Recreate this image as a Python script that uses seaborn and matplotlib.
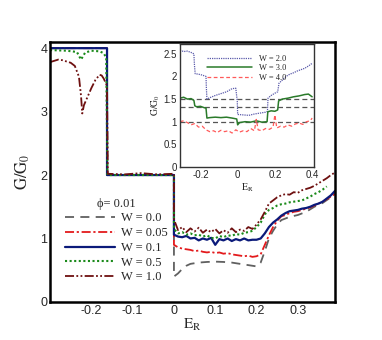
import matplotlib
matplotlib.use('Agg')
import numpy as np
import matplotlib.pyplot as plt
import seaborn as sns
from matplotlib.ticker import MultipleLocator

sns.set_style('white')
plt.rcParams['font.family'] = ['Liberation Sans', 'DejaVu Sans']
plt.rcParams['mathtext.fontset'] = 'stix'

# ---- main panel data (phi = 0.01) ----
e_hi = [0.00, 0.01, 0.02, 0.03, 0.04, 0.05, 0.06, 0.07, 0.08, 0.09,
        0.10, 0.11, 0.12, 0.13, 0.14, 0.15, 0.16, 0.17, 0.18, 0.19,
        0.20, 0.21, 0.22, 0.23, 0.24, 0.25, 0.26, 0.27, 0.28, 0.29,
        0.30, 0.31, 0.32, 0.33, 0.34, 0.35, 0.36, 0.37, 0.38, 0.39]

# W = 0.0
e_w00 = [-0.30, -0.162, -0.162, 0.0, 0.0, 0.01, 0.02, 0.03, 0.04, 0.06, 0.08, 0.10, 0.12,
         0.14, 0.16, 0.18, 0.20, 0.21, 0.22, 0.23, 0.24, 0.25, 0.26, 0.28, 0.30, 0.32,
         0.34, 0.36, 0.38, 0.39]
g_w00 = [4.0, 4.0, 2.0, 2.0, 0.40, 0.45, 0.52, 0.57, 0.60, 0.62, 0.63, 0.635, 0.63,
         0.62, 0.60, 0.58, 0.56, 0.62, 0.80, 1.00, 1.12, 1.22, 1.29, 1.34, 1.37, 1.42,
         1.50, 1.56, 1.65, 1.71]

# W = 0.05
e_w005 = [-0.30, -0.162, -0.162, 0.0] + e_hi
g_w005 = [4.0, 4.0, 2.0, 2.0,
          0.90, 0.86, 0.84, 0.83, 0.82, 0.80, 0.81, 0.79, 0.78, 0.79,
          0.77, 0.78, 0.76, 0.77, 0.75, 0.74, 0.73, 0.72, 0.73, 0.71,
          0.72, 0.75, 0.90, 1.05, 1.18, 1.28, 1.35, 1.37, 1.40, 1.42,
          1.43, 1.45, 1.47, 1.49, 1.52, 1.55, 1.58, 1.62, 1.66, 1.70]

# W = 0.1
e_w01 = [-0.30, -0.162, -0.162, 0.0] + e_hi
g_w01 = [4.0, 4.0, 2.0, 2.0,
         1.06, 1.03, 1.02, 1.04, 1.00, 1.01, 0.97, 1.00, 0.98, 1.01,
         0.90, 0.99, 0.97, 1.00, 0.96, 0.99, 0.97, 1.00, 0.97, 0.98,
         0.98, 1.00, 1.08, 1.18, 1.25, 1.30, 1.36, 1.40, 1.43, 1.44,
         1.45, 1.47, 1.48, 1.50, 1.53, 1.55, 1.58, 1.63, 1.68, 1.75]

# W = 0.5
e_w05 = [-0.30, -0.26, -0.235, -0.225, -0.215, -0.20, -0.18, -0.17, -0.164, -0.161, 0.0] + e_hi[:38]
g_w05 = [3.97, 3.96, 3.94, 3.82, 3.93, 3.96, 3.95, 3.92, 3.85, 2.0, 2.0,
         1.15, 1.08, 1.10, 1.06, 1.08, 1.05, 1.06, 1.03, 1.05, 1.01,
         1.00, 1.04, 1.02, 1.05, 1.04, 1.07, 1.06, 1.09, 1.10, 1.12,
         1.18, 1.25, 1.38, 1.45, 1.48, 1.52, 1.54, 1.55, 1.57, 1.58,
         1.59, 1.60, 1.63, 1.66, 1.70, 1.73, 1.77, 1.82]

# W = 1.0
e_w10 = [-0.30, -0.29, -0.28, -0.27, -0.26, -0.25, -0.24, -0.23, -0.225, -0.222,
         -0.218, -0.21, -0.20, -0.19, -0.18, -0.175, -0.17, -0.165, -0.162, -0.160,
         -0.12, -0.08, -0.04, 0.0] + e_hi
g_w10 = [3.78, 3.80, 3.82, 3.81, 3.79, 3.77, 3.72, 3.55, 3.25, 2.97,
         3.10, 3.22, 3.37, 3.50, 3.58, 3.57, 3.52, 3.45, 3.40, 2.02,
         2.01, 2.03, 2.01, 2.02,
         1.30, 1.13, 1.18, 1.10, 1.16, 1.11, 1.17, 1.09, 1.14, 1.10,
         1.15, 1.08, 1.13, 1.09, 1.16, 1.10, 1.14, 1.12, 1.18, 1.15,
         1.22, 1.30, 1.42, 1.55, 1.60, 1.65, 1.68, 1.70, 1.69, 1.73,
         1.72, 1.76, 1.78, 1.80, 1.83, 1.87, 1.91, 1.95, 2.00, 2.04]

# ---- inset data ----
e_in2 = [-0.31, -0.29, -0.27, -0.25, -0.235, -0.232, -0.228, -0.21, -0.19, -0.17,
         -0.168, -0.165, -0.15, -0.12, -0.09, -0.06, -0.03, -0.01, -0.002, 0.0,
         0.03, 0.06, 0.09, 0.12, 0.15, 0.160, 0.163, 0.18, 0.20, 0.215,
         0.222, 0.24, 0.26, 0.28, 0.30, 0.32, 0.34, 0.36, 0.38, 0.40]
g_in2 = [2.58, 2.55, 2.56, 2.53, 2.50, 2.25, 2.06, 2.05, 2.03, 2.00,
         1.75, 1.50, 1.53, 1.58, 1.62, 1.66, 1.73, 1.74, 1.45, 1.16,
         1.15, 1.14, 1.17, 1.19, 1.21, 1.23, 1.52, 1.58, 1.63, 1.66,
         1.85, 1.92, 2.00, 2.05, 2.08, 2.12, 2.15, 2.18, 2.23, 2.29]

e_in3 = [-0.31, -0.29, -0.27, -0.25, -0.235, -0.23, -0.22, -0.20, -0.18, -0.17,
         -0.165, -0.15, -0.12, -0.09, -0.06, -0.03, -0.005, 0.0, 0.01, 0.04,
         0.07, 0.10, 0.13, 0.158, 0.162, 0.18, 0.20, 0.215, 0.22, 0.24,
         0.27, 0.30, 0.33, 0.36, 0.38, 0.40]
g_in3 = [1.52, 1.54, 1.50, 1.51, 1.47, 1.35, 1.33, 1.34, 1.31, 1.30,
         1.08, 1.09, 1.10, 1.09, 1.10, 1.08, 1.06, 0.93, 0.98, 1.00,
         0.99, 1.02, 0.99, 1.00, 1.22, 1.24, 1.23, 1.26, 1.46, 1.50,
         1.52, 1.55, 1.57, 1.60, 1.61, 1.55]

e_in4 = [-0.31, -0.29, -0.27, -0.25, -0.23, -0.21, -0.19, -0.17, -0.15, -0.13,
         -0.11, -0.09, -0.07, -0.05, -0.03, -0.01, 0.01, 0.03, 0.05, 0.07,
         0.09, 0.10, 0.11, 0.13, 0.15, 0.17, 0.19, 0.20, 0.21, 0.23,
         0.25, 0.27, 0.29, 0.31, 0.33, 0.35, 0.37, 0.39, 0.40]
g_in4 = [1.00, 1.02, 0.98, 0.93, 0.96, 0.88, 0.90, 0.82, 0.78, 0.80,
         0.76, 0.81, 0.78, 0.80, 0.75, 0.82, 0.77, 0.80, 0.78, 0.85,
         0.80, 1.05, 0.82, 0.80, 0.85, 0.83, 0.88, 1.15, 0.86, 0.90,
         0.88, 0.93, 0.90, 0.95, 0.97, 0.94, 1.00, 1.02, 1.08]

ref_levels = [1.5, 4 / 3, 1.0]

serif = ['Liberation Serif', 'DejaVu Serif']

fig = plt.figure(figsize=(3.82, 3.40), dpi=100)
ax = fig.add_axes([0.131, 0.112, 0.746, 0.765])

main_series = [
    (e_w00, g_w00, 'W = 0.0', '#606060', (0, (5, 3.5)), 1.3),
    (e_w005, g_w005, 'W = 0.05', '#e31a1c', (0, (5, 1.5, 1.2, 1.5)), 1.3),
    (e_w01, g_w01, 'W = 0.1', '#0b1a7a', '-', 1.6),
    (e_w05, g_w05, 'W = 0.5', '#1a8a1a', (0, (1, 1.2)), 1.5),
    (e_w10, g_w10, 'W = 1.0', '#6e1010', (0, (5, 1.3, 1, 1.3, 1, 1.3)), 1.3),
]
for xs, ys, lab, col, ls, lw in main_series:
    sns.lineplot(x=xs, y=ys, ax=ax, sort=False, estimator=None, color=col,
                 linestyle=ls, linewidth=lw, label=lab)

ax.set_xlim(-0.3, 0.39)
ax.set_ylim(0, 4.1)
ax.xaxis.set_minor_locator(MultipleLocator(0.02))
ax.yaxis.set_major_locator(MultipleLocator(1))
ax.yaxis.set_minor_locator(MultipleLocator(0.2))
ax.set_xticks([-0.2, -0.1, 0, 0.1, 0.2, 0.3])
ax.set_xticklabels(['-0.2', '-0.1', '0', '0.1', '0.2', '0.3'])
ax.tick_params(which='major', direction='in', length=6, width=1.3, labelsize=9,
               top=False, right=False, pad=2)
ax.tick_params(which='minor', direction='in', length=3, width=0.8, top=False, right=False)
for s in ax.spines.values():
    s.set_linewidth(1.8)
    s.set_color('black')
ax.set_xlabel(r'$\mathrm{E_R}$', fontsize=11, labelpad=0)
ax.set_ylabel(r'$\mathrm{G/G_0}$', fontsize=12, labelpad=6)

leg = ax.legend(loc='upper left', bbox_to_anchor=(0.035, 0.42), frameon=False,
                title='ϕ= 0.01', prop={'family': serif, 'size': 9},
                handlelength=4.0, handletextpad=0.5, labelspacing=0.22,
                borderaxespad=0)
leg.get_title().set_fontfamily(serif)
leg.get_title().set_fontsize(9)

# ---- inset ----
axin = fig.add_axes([0.471, 0.509, 0.351, 0.362])
for lvl in ref_levels:
    axin.axhline(lvl, color='#555555', linestyle=(0, (4, 2.5)), linewidth=0.9)
inset_series = [
    (e_in2, g_in2, 'W = 2.0', '#5a5aaa', (0, (1, 0.8)), 0.9),
    (e_in3, g_in3, 'W = 3.0', '#2a7a2a', '-', 1.1),
    (e_in4, g_in4, 'W = 4.0', '#ff5a5a', (0, (3, 2)), 0.9),
]
for xs, ys, lab, col, ls, lw in inset_series:
    sns.lineplot(x=xs, y=ys, ax=axin, sort=False, estimator=None, color=col,
                 linestyle=ls, linewidth=lw, label=lab)
axin.set_xlim(-0.31, 0.41)
axin.set_ylim(0, 2.72)
axin.set_xticks([-0.2, 0, 0.2, 0.4])
axin.set_xticklabels(['-0.2', '0', '0.2', '0.4'])
axin.set_yticks([0, 0.5, 1, 1.5, 2, 2.5])
axin.set_yticklabels(['0', '0.5', '1', '1.5', '2', '2.5'])
axin.xaxis.set_minor_locator(MultipleLocator(0.05))
axin.yaxis.set_minor_locator(MultipleLocator(0.1))
axin.tick_params(which='major', direction='in', length=3, width=0.7, labelsize=7,
                 top=False, right=False, pad=2)
axin.tick_params(which='minor', direction='in', length=1.5, width=0.5, top=False, right=False)
for s in axin.spines.values():
    s.set_linewidth(1.0)
    s.set_color('#333333')
axin.set_xlabel(r'$\mathrm{E_R}$', fontsize=7, labelpad=1)
axin.set_ylabel(r'$\mathrm{G/G_0}$', fontsize=7, labelpad=1)
axin.legend(loc='upper right', bbox_to_anchor=(0.82, 0.94), frameon=False,
            prop={'family': serif, 'size': 6}, handlelength=5.5, handletextpad=0.8,
            labelspacing=0.2, borderaxespad=0)

fig.savefig('out.png', dpi=100)
